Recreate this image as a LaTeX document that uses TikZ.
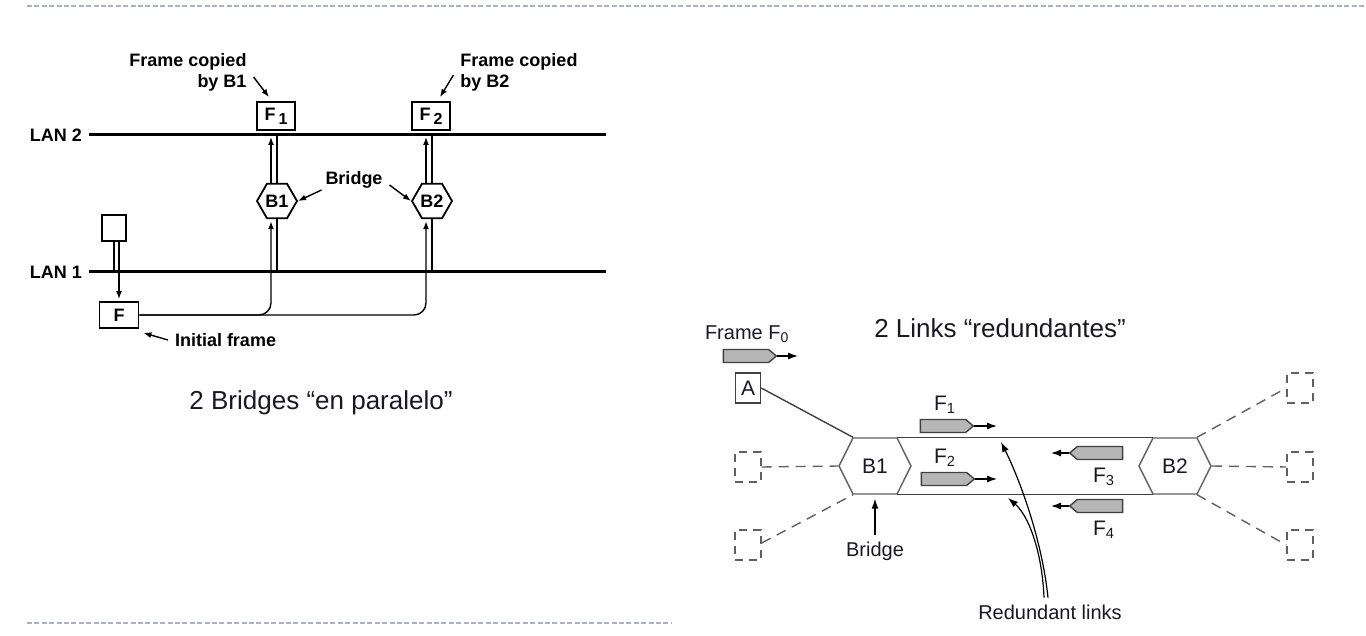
\documentclass[tikz,border=0pt]{standalone}
\usepackage{fontspec}
\setmainfont{Liberation Sans}
\usetikzlibrary{arrows.meta,shapes.geometric,shapes.symbols}
\definecolor{SlideRule}{RGB}{168,178,194}
\definecolor{LinkGray}{RGB}{64,64,64}
\definecolor{HexGray}{RGB}{96,96,96}
\definecolor{FrameFill}{RGB}{182,182,182}
\definecolor{TextInk}{RGB}{24,24,36}
\newcommand{\boxsub}[1]{\,\raisebox{-0.45ex}{\footnotesize #1}}

\begin{document}
\begin{tikzpicture}[
    x=0.5pt, y=-0.5pt,
    >={Latex[length=4pt,width=3pt]},
    lbl/.style={
        font=\bfseries\fontsize{9}{10.6}\selectfont,
        inner sep=3.3pt
    },
    title/.style={
        font=\fontsize{13}{15.6}\selectfont,
        text=TextInk
    },
    txt/.style={
        font=\fontsize{10}{12}\selectfont,
        text=TextInk,
        inner sep=3.3pt
    },
    lan/.style={
        line width=1.5pt
    },
    tap/.style={
        line width=1.3pt
    },
    flow/.style={
        ->,
        line width=0.7pt,
        shorten >=1pt
    },
    callout/.style={
        ->,
        line width=0.7pt
    },
    framebox/.style={
        draw,
        line width=0.9pt,
        fill=white,
        font=\bfseries\fontsize{9}{10.6}\selectfont,
        minimum width=19pt,
        minimum height=14pt,
        inner sep=0pt
    },
    bridgehex/.style={
        draw,
        line width=0.9pt,
        fill=white,
        regular polygon,
        regular polygon sides=6,
        minimum size=20pt,
        inner sep=0pt,
        font=\bfseries\fontsize{9}{10.6}\selectfont
    },
    bridgesig/.style={
        draw=HexGray,
        line width=0.7pt,
        signal,
        signal to=east and west,
        signal pointer angle=127,
        minimum width=36pt,
        minimum height=28pt,
        inner sep=0pt,
        font=\fontsize{10.5}{12}\selectfont,
        text=TextInk
    },
    pkt/.style={
        draw=LinkGray,
        line width=0.7pt,
        fill=FrameFill,
        signal,
        signal pointer angle=80,
        minimum width=26.5pt,
        minimum height=6.5pt,
        inner sep=0pt
    },
    pktarrow/.style={
        -{Latex[length=5pt,width=3.5pt]},
        line width=0.6pt,
        draw=black
    },
    hostbox/.style={
        draw=LinkGray,
        line width=0.7pt,
        minimum width=12.5pt,
        minimum height=15pt,
        inner sep=0pt,
        font=\fontsize{10.5}{12}\selectfont,
        text=TextInk
    },
    ghost/.style={
        draw=HexGray,
        line width=0.7pt,
        dash pattern=on 4pt off 3pt,
        minimum width=13pt,
        minimum height=15pt,
        inner sep=0pt
    },
    link/.style={
        draw=LinkGray,
        line width=0.7pt
    },
    ghostlink/.style={
        draw=HexGray,
        line width=0.7pt,
        dash pattern=on 5pt off 3.5pt
    },
    deco/.style={
        draw=SlideRule,
        line width=0.8pt,
        dash pattern=on 2.5pt off 1.2pt
    }
]

\useasboundingbox (0,0) rectangle (1366,636);

\draw[deco] (27,6) -- (1366,6);
\draw[deco] (27,623) -- (672,623);

\node[lbl, anchor=east] (lan2lbl) at (89,135) {LAN 2};
\node[lbl, anchor=east] (lan1lbl) at (89,272) {LAN 1};
\coordinate (lan2e) at (606,135);
\coordinate (lan1e) at (606,272);
\draw[lan] (lan2lbl.east) -- (lan2e);
\draw[lan] (lan1lbl.east) -- (lan1e);

\node[framebox] (f1) at (276,116) {F\boxsub{1}};
\node[framebox] (f2) at (431,116) {F\boxsub{2}};
\node[bridgehex] (b1) at (277,201) {B1};
\node[bridgehex] (b2) at (432,201) {B2};
\node[framebox, minimum width=19.5pt, minimum height=13pt] (f) at (119,315) {F};
\node[draw, line width=0.9pt, minimum width=12pt, minimum height=13pt] (st) at (114,228) {};

\node[lbl, align=right] (cp1) at (188,72) {Frame copied\\by B1};
\node[lbl, align=left] (cp2) at (519,72) {Frame copied\\by B2};
\node[lbl] (brlbl) at (354,180) {Bridge};
\node[lbl, anchor=west] (initlbl) at (168,340) {Initial frame};

\draw[tap] (b1.north) -- (b1.north |- lan2e);
\draw[tap] (b1.south) -- (b1.south |- lan1e);
\draw[tap] (b2.north) -- (b2.north |- lan2e);
\draw[tap] (b2.south) -- (b2.south |- lan1e);
\draw[tap] (st.south) -- (st.south |- lan1e);

\draw[flow] ([xshift=-3pt]b1.north) -- ([xshift=-3pt]b1.north |- lan2e);
\draw[flow] ([xshift=-3pt]b2.north) -- ([xshift=-3pt]b2.north |- lan2e);
\draw[flow] ([xshift=2.5pt]st.south) -- ([xshift=2.5pt]st.south |- f.north);
\draw[flow, rounded corners=6pt] (f.east) -| ([xshift=-3pt]b1.south);
\draw[flow, rounded corners=6pt] (f.east) -| ([xshift=-3pt]b2.south);

\draw[callout] ([yshift=-2.5pt]cp1.east) -- ([xshift=-3.5pt,yshift=2pt]f1.north);
\draw[callout] ([yshift=-1.5pt]cp2.west) -- ([xshift=4.5pt,yshift=2pt]f2.north);
\draw[callout] ([shift={(1.5pt,-5pt)}]brlbl.west) -- (b1.east);
\draw[callout] ([yshift=-2.5pt]brlbl.east) -- (b2.west);
\draw[callout] (initlbl.west) -- ([shift={(2pt,-2pt)}]f.south east);

\node[title] (ttl1) at (321,403) {2 Bridges “en paralelo”};

\node[title] (ttl2) at (1000,328) {2 Links “redundantes”};
\node[txt, anchor=base west] (f0lbl) at (698,340) {Frame F\textsubscript{0}};

\node[pkt] (f0) at (746,356) {};
\coordinate (f0tip) at (798,356);
\draw[pktarrow] (f0) -- (f0tip);

\node[hostbox] (a) at (748,388) {A};
\node[bridgesig] (rb1) at (875,466) {B1};
\node[bridgesig] (rb2) at (1175,466) {B2};

\draw[link] ([xshift=11pt]rb1.north) -- ([xshift=-11pt]rb2.north);
\draw[link] ([xshift=11pt]rb1.south) -- ([xshift=-11pt]rb2.south);
\draw[link] (a.east) -- ([xshift=-11pt]rb1.north);

\node[ghost] (gl1) at (748,467) {};
\node[ghost] (gl2) at (748,545) {};
\node[ghost] (gr1) at (1300,388) {};
\node[ghost] (gr2) at (1300,467) {};
\node[ghost] (gr3) at (1300,545) {};
\draw[ghostlink] (gl1.east) -- (rb1.west);
\draw[ghostlink] ([yshift=1pt]gl2.east) -- ([xshift=-11pt]rb1.south);
\draw[ghostlink] ([xshift=11pt]rb2.north) -- (gr1.west);
\draw[ghostlink] (rb2.east) -- (gr2.west);
\draw[ghostlink] ([xshift=11pt]rb2.south) -- (gr3.west);

\node[pkt] (p1) at (943,426) {};
\node[pkt] (p2) at (944,479) {};
\node[pkt, signal to=west] (p3) at (1100,453) {};
\node[pkt, signal to=west] (p4) at (1100,506) {};
\coordinate (p1tip) at (997,426);
\coordinate (p2tip) at (997,479);
\coordinate (p3tip) at (1051,453);
\coordinate (p4tip) at (1051,506);
\draw[pktarrow] (p1) -- (p1tip);
\draw[pktarrow] (p2) -- (p2tip);
\draw[pktarrow] (p3) -- (p3tip);
\draw[pktarrow] (p4) -- (p4tip);

\node[txt, font=\fontsize{10.5}{12}\selectfont] (p1lbl) at (945,405) {F\textsubscript{1}};
\node[txt, font=\fontsize{10.5}{12}\selectfont] (p2lbl) at (945,458) {F\textsubscript{2}};
\node[txt, font=\fontsize{10.5}{12}\selectfont] (p3lbl) at (1104,477) {F\textsubscript{3}};
\node[txt, font=\fontsize{10.5}{12}\selectfont] (p4lbl) at (1104,530) {F\textsubscript{4}};

\node[txt] (brlbl2) at (875,551) {Bridge};
\draw[pktarrow, shorten >=2pt] (brlbl2.north) -- (rb1.south);

\node[txt] (rdlbl) at (1050,612) {Redundant links};
\coordinate (rl1) at (1001,442);
\coordinate (rl2) at (1008,498);
\draw[pktarrow] ([xshift=-1pt]rdlbl.north) .. controls (1042,540) and (1020,480) .. (rl1);
\draw[pktarrow] ([xshift=-3pt]rdlbl.north) .. controls (1042,550) and (1028,515) .. (rl2);

\end{tikzpicture}
\end{document}
